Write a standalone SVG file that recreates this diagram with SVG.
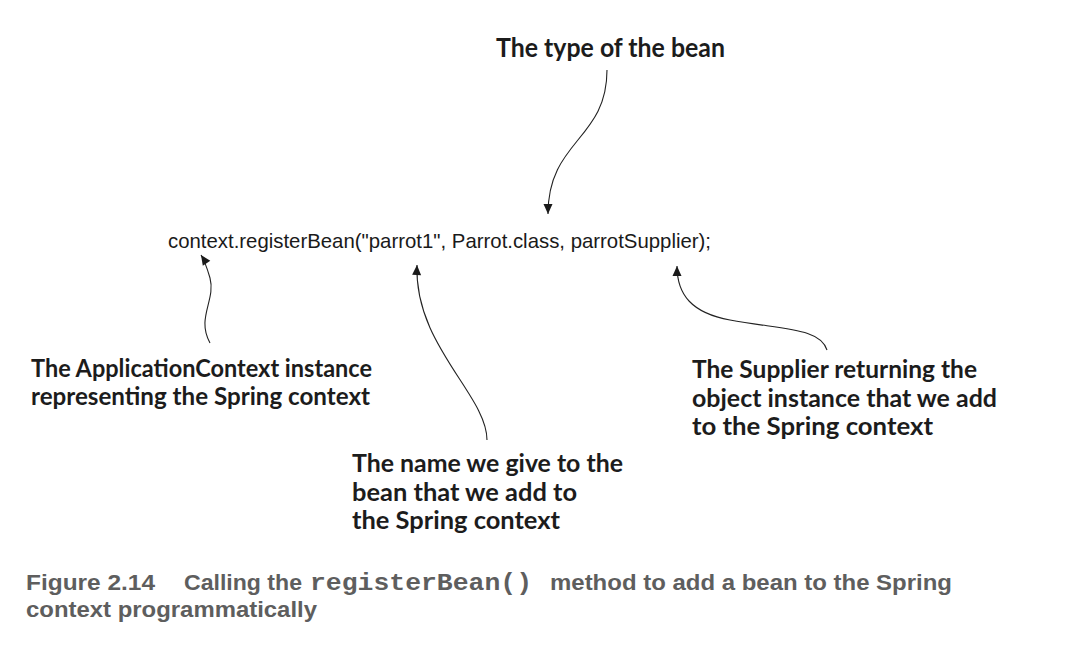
<svg xmlns="http://www.w3.org/2000/svg" width="1081" height="653" viewBox="0 0 1081 653">
<defs>
<style>
.ann{font-family:Lato,"Open Sans","Liberation Sans",sans-serif;font-weight:bold;fill:#1c1c1c;font-size:25.5px}
.title{font-size:27px}
.code{font-family:"Liberation Sans",Arial,sans-serif;font-size:20.3px;fill:#1a1a1a}
.cap{font-family:"Liberation Sans",Arial,sans-serif;font-weight:bold;font-size:22.5px;fill:#5e5e5e}
.mono{font-family:"Liberation Mono","Courier New",monospace;font-weight:bold;font-size:24px;fill:#5e5e5e}
.conn{fill:none;stroke:#222;stroke-width:1.1}
</style>
<marker id="ah" markerUnits="userSpaceOnUse" markerWidth="12" markerHeight="12" viewBox="0 0 12 12" refX="11" refY="6" orient="auto">
<path d="M1,1.5 L11,6 L1,10.5 Z" fill="#1a1a1a"/>
</marker>
</defs>
<rect width="1081" height="653" fill="#fff"/>
<g id="connectors">
<path class="conn" d="M607,70 C607,140 548,140 548,214" marker-end="url(#ah)"/>
<path class="conn" d="M210,343 C196,318 216,300 210,278 C207,268 205,261 201,255" marker-end="url(#ah)"/>
<path class="conn" d="M487,440 C487,395 414,345 417,265" marker-end="url(#ah)"/>
<path class="conn" d="M827,350 C820,328 785,330 730,320 C692,313 677,295 677,266" marker-end="url(#ah)"/>
</g>
<g id="code">
<text class="code" x="168" y="248" textLength="543" lengthAdjust="spacingAndGlyphs">context.registerBean("parrot1", Parrot.class, parrotSupplier);</text>
</g>
<g id="type-label">
<text class="ann title" x="496" y="57" textLength="229" lengthAdjust="spacingAndGlyphs">The type of the bean</text>
</g>
<g id="context-label">
<text class="ann" x="31" y="377" textLength="341" lengthAdjust="spacingAndGlyphs">The ApplicationContext instance</text>
<text class="ann" x="31" y="405" textLength="339" lengthAdjust="spacingAndGlyphs">representing the Spring context</text>
</g>
<g id="name-label">
<text class="ann" x="352" y="472" textLength="271" lengthAdjust="spacingAndGlyphs">The name we give to the</text>
<text class="ann" x="352" y="501" textLength="225" lengthAdjust="spacingAndGlyphs">bean that we add to</text>
<text class="ann" x="352" y="529" textLength="208" lengthAdjust="spacingAndGlyphs">the Spring context</text>
</g>
<g id="supplier-label">
<text class="ann" x="692" y="378" textLength="285" lengthAdjust="spacingAndGlyphs">The Supplier returning the</text>
<text class="ann" x="692" y="407" textLength="305" lengthAdjust="spacingAndGlyphs">object instance that we add</text>
<text class="ann" x="692" y="435" textLength="241" lengthAdjust="spacingAndGlyphs">to the Spring context</text>
</g>
<g id="caption">
<text class="cap" x="26" y="590" textLength="129" lengthAdjust="spacingAndGlyphs">Figure 2.14</text>
<text class="cap" x="184" y="590" textLength="118" lengthAdjust="spacingAndGlyphs">Calling the</text>
<text class="mono" x="310" y="590" textLength="222" lengthAdjust="spacingAndGlyphs">registerBean()</text>
<text class="cap" x="550" y="590" textLength="402" lengthAdjust="spacingAndGlyphs">method to add a bean to the Spring</text>
<text class="cap" x="26" y="617" textLength="291" lengthAdjust="spacingAndGlyphs">context programmatically</text>
</g>
</svg>
